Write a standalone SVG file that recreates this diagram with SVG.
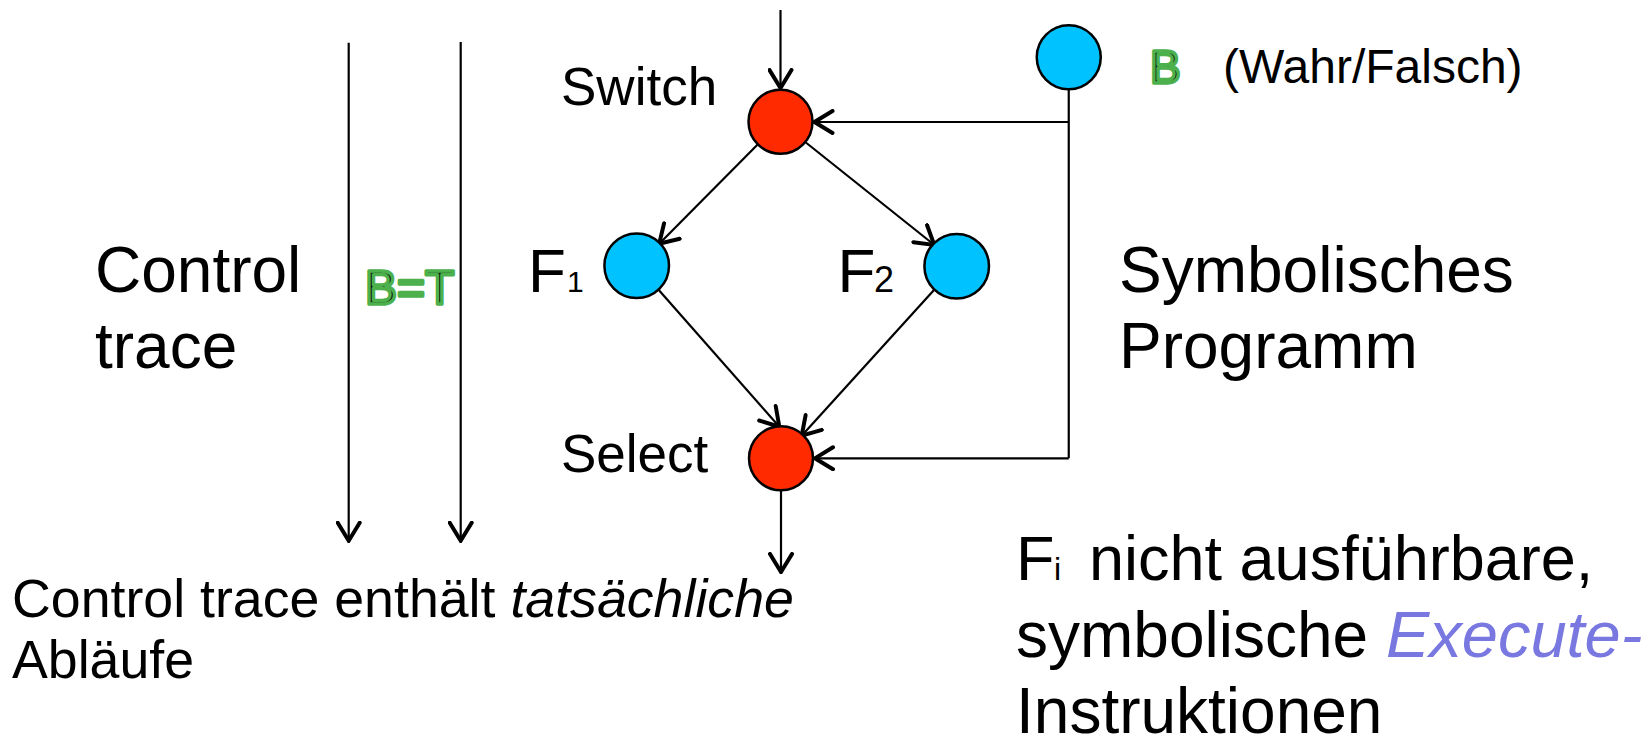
<svg xmlns="http://www.w3.org/2000/svg" width="1648" height="737" viewBox="0 0 1648 737">
<style>
text{font-family:"Liberation Sans",Arial,sans-serif;fill:#000}
.lbl{font-size:53px}
.big{font-size:64px}
.mid{font-size:53.7px}
.con{fill:none;stroke:#000;stroke-width:2.2}
.arr{marker-end:url(#ah)}
.red{fill:#ff2a00;stroke:#000;stroke-width:2.5}
.blue{fill:#00c2ff;stroke:#000;stroke-width:2.5}
.outl{fill:#0a0a0a;stroke:#4cb04c;stroke-width:3.4;stroke-linejoin:round}
</style>
<defs>
<marker id="ah" viewBox="0 0 22 26" refX="21" refY="13" markerWidth="22" markerHeight="26" markerUnits="userSpaceOnUse" orient="auto">
<path d="M2,2 L20,13 L2,24" fill="none" stroke="#000" stroke-width="4" stroke-linecap="round" stroke-linejoin="miter"/>
</marker>
</defs>
<rect width="1648" height="737" fill="#fff"/>

<g id="connectors">
<line class="con arr" x1="780.5" y1="10" x2="780.5" y2="89"/>
<path class="con" d="M1068.75,89 V458.3"/>
<line class="con arr" x1="1068.75" y1="122" x2="813.5" y2="122"/>
<line class="con arr" x1="1068.75" y1="458.3" x2="814" y2="458.3"/>
<line class="con arr" x1="757.9" y1="144.3" x2="658.5" y2="244.5"/>
<line class="con arr" x1="805.2" y1="142" x2="935" y2="245.5"/>
<line class="con arr" x1="657" y1="288" x2="780" y2="427.5"/>
<line class="con arr" x1="934" y1="290" x2="801" y2="436.5"/>
<line class="con arr" x1="781" y1="490.3" x2="781" y2="573"/>
<line class="con arr" x1="348.7" y1="42.7" x2="348.7" y2="541.7"/>
<line class="con arr" x1="460.7" y1="42" x2="460.7" y2="541.7"/>
</g>

<g id="switch">
<circle class="red" cx="780.5" cy="121.7" r="32"/>
<text class="lbl" x="561" y="105">Switch</text>
</g>
<g id="select">
<circle class="red" cx="781" cy="458.3" r="32"/>
<text class="lbl" x="561" y="472.3">Select</text>
</g>
<g id="f1">
<circle class="blue" cx="636.7" cy="265.7" r="32.3"/>
<text font-size="62" x="528" y="291.7">F<tspan font-size="30" x="567">1</tspan></text>
</g>
<g id="f2">
<circle class="blue" cx="956.7" cy="266.2" r="32.3"/>
<text font-size="62" x="837.5" y="291.7">F<tspan font-size="36" x="874">2</tspan></text>
</g>
<g id="b">
<circle class="blue" cx="1068.75" cy="57.3" r="32"/>
<text class="outl" x="1150" y="83.3" font-size="46">B</text>
<text x="1223" y="83.3" font-size="48">(Wahr/Falsch)</text>
</g>

<g id="labels">
<text class="big" x="95" y="291.7">Control</text>
<text class="big" x="95" y="368.3">trace</text>
<text class="outl" x="365" y="304" font-size="48">B=T</text>
<text x="1119" y="291.7" font-size="64">Symbolisches</text>
<text x="1119" y="368.3" font-size="64">Programm</text>
<text class="mid" x="12" y="616.7">Control trace enthält <tspan font-style="italic">tatsächliche</tspan></text>
<text class="mid" x="12" y="678.3">Abläufe</text>
<text font-size="63" x="1016" y="580">F<tspan font-size="32" x="1054">i</tspan><tspan x="1089">nicht ausführbare,</tspan></text>
<text font-size="64" x="1016" y="657.3">symbolische <tspan font-style="italic" fill="#7878e0" font-size="65">Execute-</tspan></text>
<text font-size="64" x="1016" y="732.5">Instruktionen</text>
</g>
</svg>
